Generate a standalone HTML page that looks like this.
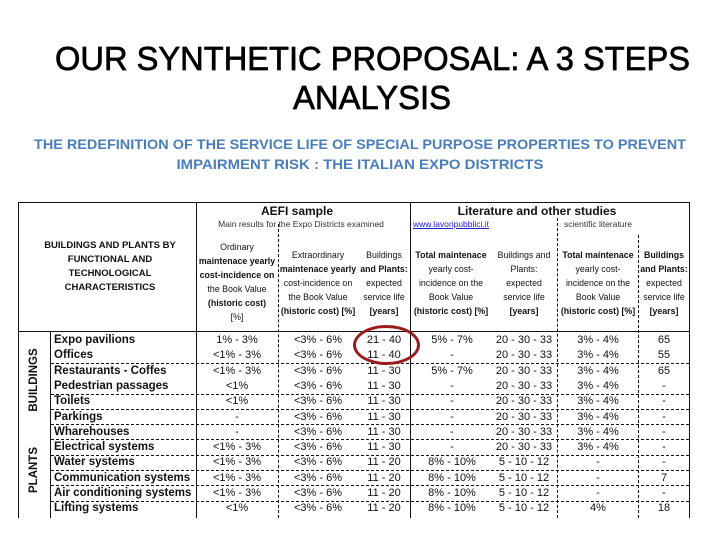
<!DOCTYPE html>
<html><head><meta charset="utf-8">
<style>
body{margin:0;background:#fff;}
#slide{position:relative;width:720px;height:540px;overflow:hidden;background:#fff;font-family:"Liberation Sans",Arial,sans-serif;color:#111;}
.a{position:absolute;white-space:nowrap;}
.c{text-align:center;transform:translateX(-50%);}
.hl{position:absolute;height:0;}
.vl{position:absolute;width:0;}
.hdr{font-size:8.8px;line-height:14px;}
.b{font-weight:bold;}
.cell{font-size:11px;position:absolute;white-space:nowrap;transform:translate(-50%,-50%);}
.name{font-size:11.5px;font-weight:bold;position:absolute;white-space:nowrap;transform:translateY(-50%);left:54px;}
</style></head><body>
<div id="slide">
<svg class="a" style="left:0;top:0" width="720" height="190">
<text x="55" y="70" textLength="635" lengthAdjust="spacingAndGlyphs" font-family="Liberation Sans, sans-serif" font-size="33" fill="#000" stroke="#000" stroke-width="0.7">OUR SYNTHETIC PROPOSAL: A 3 STEPS</text>
<text x="372" y="109" text-anchor="middle" textLength="158" lengthAdjust="spacingAndGlyphs" font-family="Liberation Sans, sans-serif" font-size="33" fill="#000" stroke="#000" stroke-width="0.7">ANALYSIS</text>
<text x="34" y="149" textLength="652" lengthAdjust="spacingAndGlyphs" font-family="Liberation Sans, sans-serif" font-weight="bold" font-size="14" fill="#4a7ebb">THE REDEFINITION OF THE SERVICE LIFE OF SPECIAL PURPOSE PROPERTIES TO PREVENT</text>
<text x="360" y="169" text-anchor="middle" textLength="367" lengthAdjust="spacingAndGlyphs" font-family="Liberation Sans, sans-serif" font-weight="bold" font-size="14" fill="#4a7ebb">IMPAIRMENT RISK : THE ITALIAN EXPO DISTRICTS</text>
</svg>

<div id="table">
<div class="hl" style="left:18px;width:672px;top:202px;border-top:1.5px solid #111"></div>
<div class="hl" style="left:18px;width:672px;top:331px;border-top:1.5px solid #111"></div>
<div class="vl" style="left:18px;top:202px;height:316px;border-left:1.5px solid #111"></div>
<div class="vl" style="left:689px;top:202px;height:316px;border-left:1.5px solid #111"></div>
<div class="vl" style="left:50px;top:332px;height:186px;border-left:1.5px solid #111"></div>
<div class="vl" style="left:196px;top:202px;height:316px;border-left:1.5px solid #111"></div>
<div class="vl" style="left:410px;top:202px;height:316px;border-left:1.5px solid #111"></div>
<div class="vl" style="left:278px;top:224px;height:294px;border-left:1px dashed #111"></div>
<div class="vl" style="left:557px;top:218px;height:300px;border-left:1px dashed #111"></div>
<div class="vl" style="left:638px;top:235px;height:283px;border-left:1px dashed #111"></div>

<div class="a c b" style="left:110px;top:239px;font-size:9.5px;line-height:14px">BUILDINGS AND PLANTS BY<br>FUNCTIONAL AND<br>TECHNOLOGICAL<br>CHARACTERISTICS</div>
<div class="a c b" style="left:297px;top:204px;font-size:12px">AEFI sample</div>
<div class="a c" style="left:301px;top:219px;font-size:8.5px;color:#333">Main results for the Expo Districts examined</div>
<div class="a c b" style="left:537px;top:204px;font-size:12px">Literature and other studies</div>
<div class="a c" style="left:451px;top:219px;font-size:8.5px;color:#22c;text-decoration:underline">www.lavoripubblici.it</div>
<div class="a c" style="left:598px;top:219px;font-size:8.5px;color:#333">scientific literature</div>
<div class="a c hdr" style="left:237px;top:240px">Ordinary<br><b>maintenace yearly</b><br><b>cost-incidence on</b><br>the Book Value<br><b>(historic cost)</b><br>[%]</div>
<div class="a c hdr" style="left:318px;top:248px">Extraordinary<br><b>maintenace yearly</b><br>cost-incidence on<br>the Book Value<br><b>(historic cost) [%]</b></div>
<div class="a c hdr" style="left:384px;top:248px">Buildings<br><b>and Plants:</b><br>expected<br>service life<br><b>[years]</b></div>
<div class="a c hdr" style="left:451px;top:248px"><b>Total maintenace</b><br>yearly cost-<br>incidence on the<br>Book Value<br><b>(historic cost) [%]</b></div>
<div class="a c hdr" style="left:524px;top:248px">Buildings and<br>Plants:<br>expected<br>service life<br><b>[years]</b></div>
<div class="a c hdr" style="left:598px;top:248px"><b>Total maintenace</b><br>yearly cost-<br>incidence on the<br>Book Value<br><b>(historic cost) [%]</b></div>
<div class="a c hdr" style="left:664px;top:248px"><b>Buildings</b><br><b>and Plants:</b><br>expected<br>service life<br><b>[years]</b></div>

<div class="a b" style="left:34px;top:380px;font-size:11.5px;transform:translate(-50%,-50%) rotate(-90deg)">BUILDINGS</div>
<div class="a b" style="left:34px;top:470px;font-size:11.5px;transform:translate(-50%,-50%) rotate(-90deg)">PLANTS</div>
<div id="rows"></div>
<div class="a" style="left:353px;top:325px;width:67px;height:40px;border:3px solid #9b1c1c;border-radius:50%;box-sizing:border-box"></div>
</div>
</div>
<script>
const names=["Expo pavilions","Offices","Restaurants - Coffes","Pedestrian passages","Toilets","Parkings","Wharehouses","Electrical systems","Water systems","Communication systems","Air conditioning systems","Lifting systems"];
const ordinary=["1% - 3%","<1% - 3%","<1% - 3%","<1%","<1%","-","-","<1% - 3%","<1% - 3%","<1% - 3%","<1% - 3%","<1%"];
const extra=["<3% - 6%","<3% - 6%","<3% - 6%","<3% - 6%","<3% - 6%","<3% - 6%","<3% - 6%","<3% - 6%","<3% - 6%","<3% - 6%","<3% - 6%","<3% - 6%"];
const life=["21 - 40","11 - 40","11 - 30","11 - 30","11 - 30","11 - 30","11 - 30","11 - 30","11 - 20","11 - 20","11 - 20","11 - 20"];
const lpTotal=["5% - 7%","-","5% - 7%","-","-","-","-","-","8% - 10%","8% - 10%","8% - 10%","8% - 10%"];
const lpLife=["20 - 30 - 33","20 - 30 - 33","20 - 30 - 33","20 - 30 - 33","20 - 30 - 33","20 - 30 - 33","20 - 30 - 33","20 - 30 - 33","5 - 10 - 12","5 - 10 - 12","5 - 10 - 12","5 - 10 - 12"];
const slTotal=["3% - 4%","3% - 4%","3% - 4%","3% - 4%","3% - 4%","3% - 4%","3% - 4%","3% - 4%","-","-","-","4%"];
const slLife=["65","55","65","-","-","-","-","-","-","7","-","18"];
const dashAfter=[false,true,false,true,true,true,true,true,true,true,true,false];
const cols=[[ordinary,237],[extra,318],[life,384],[lpTotal,452],[lpLife,524],[slTotal,598],[slLife,664]];
const rows=document.getElementById('rows');
const top0=340,pitch=15.3;
names.forEach((n,i)=>{
  const y=top0+i*pitch;
  const d=document.createElement('div');
  d.className='name';d.style.top=y+'px';d.textContent=n;
  
  
  rows.appendChild(d);
  cols.forEach(([arr,x])=>{
    const c=document.createElement('div');
    c.className='cell';c.style.left=x+'px';c.style.top=y+'px';c.textContent=arr[i];
    
    
    rows.appendChild(c);
  });
  if(dashAfter[i]){
    const l=document.createElement('div');
    l.className='hl';l.style.left='51px';l.style.width='638px';l.style.top=(y+pitch/2)+'px';l.style.borderTop='1px dashed #111';
    
    
    rows.appendChild(l);
  }
});
</script>
</body></html>
